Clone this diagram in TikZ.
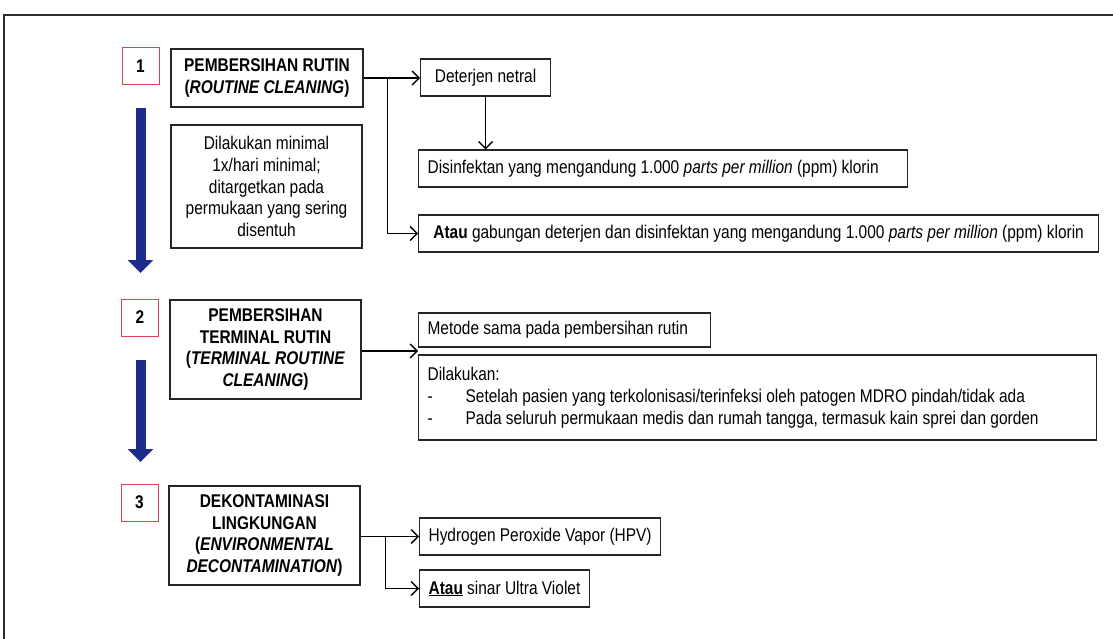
\documentclass[tikz,border=0pt]{standalone}
\usepackage{fontspec}
\setmainfont{Liberation Sans}[FakeStretch=0.84]
\usepackage{xcolor}
\usepackage{tikz}
\usetikzlibrary{shapes,arrows.meta,positioning,calc}
\definecolor{darkblue}{HTML}{1C2C8C}
\definecolor{boxred}{HTML}{D8404E}
\definecolor{framegray}{HTML}{2E2E2E}
\newcommand{\diagfont}{\fontsize{18.4}{21.8}\selectfont}
\newcommand{\bulletline}[1]{\makebox[38pt][l]{-}#1}

\tikzset{
  numbox/.style={draw=boxred,line width=0.8pt,minimum width=37,minimum height=37,inner sep=0pt,font=\diagfont\bfseries},
  stagebox/.style={draw=black!85,line width=1.3pt,align=center,inner sep=3pt,font=\diagfont\bfseries},
  notebox/.style={draw=black!85,line width=1.2pt,align=center,inner sep=3pt,font=\diagfont},
  itembox/.style={draw=black!85,line width=1.2pt,anchor=west,inner xsep=9pt,minimum height=37,font=\diagfont},
  link/.style={line width=1.3pt,-{Straight Barb[length=7pt,width=14pt]}},
  flow/.style={darkblue,line width=10pt,-{Triangle[length=13pt,width=25pt]}}
}

\begin{document}
\begin{tikzpicture}[x=1pt,y=-1pt]
  \useasboundingbox (0,0) rectangle (1113,639);
  % Page frame
  \draw[framegray,line width=1.6pt] (4,639) -- (4,15) -- (1113,15);

  % Routine cleaning
  \node[numbox] (num1) at (140.5,66) {1};
  \node[stagebox,minimum width=192,minimum height=58] (stage1) at (267,78)
    {PEMBERSIHAN RUTIN\\(\textit{ROUTINE CLEANING})};
  \node[notebox,minimum width=191,minimum height=123] (desc1) at (266.5,186.5)
    {Dilakukan minimal\\1x/hari minimal;\\ditargetkan pada\\permukaan yang sering\\disentuh};
  \node[itembox,minimum width=130] (deter) at (420,77.5) {Deterjen netral};
  \node[itembox] (disin) at (418,168.5)
    {\makebox[471pt][l]{Disinfektan yang mengandung 1.000 \textit{parts per million} (ppm) klorin}};
  \node[itembox,minimum width=680] (atau1) at (418,233.5)
    {\textbf{Atau} gabungan deterjen dan disinfektan yang mengandung 1.000 \textit{parts per million} (ppm) klorin};

  \coordinate (br1) at ($(stage1.east)+(24,0)$);
  \draw[link] (stage1.east) -- (stage1.east -| deter.west);
  \draw[link] (br1) |- (atau1.west);
  \draw[link] (deter.south) -- (deter.south |- disin.north);

  \coordinate (flow1end) at (140.5,273);
  \draw[flow] (num1.south |- stage1.south) -- (flow1end);

  % Terminal routine cleaning
  \node[numbox] (num2) at (140,317.5) {2};
  \node[stagebox,minimum width=191,minimum height=99] (stage2) at (265.5,349.5)
    {PEMBERSIHAN\\TERMINAL RUTIN\\(\textit{TERMINAL ROUTINE}\\\textit{CLEANING})};
  \node[itembox,minimum height=34] (metode) at (418,330)
    {\makebox[274pt][l]{Metode sama pada pembersihan rutin}};
  \node[itembox,align=left,minimum height=85] (dilak) at (418,397.5)
    {\makebox[660pt][l]{Dilakukan:}\\
     \bulletline{Setelah pasien yang terkolonisasi/terinfeksi oleh patogen MDRO pindah/tidak ada}\\
     \bulletline{Pada seluruh permukaan medis dan rumah tangga, termasuk kain sprei dan gorden}};

  \coordinate (gap2) at ($(metode.south west)!0.5!(dilak.north west)$);
  \draw[link] (stage2.east |- gap2) -- (gap2);

  \coordinate (flow2start) at (140.5,360);
  \coordinate (flow2end) at (140.5,462);
  \draw[flow] (flow2start) -- (flow2end);

  % Environmental decontamination
  \node[numbox] (num3) at (139.5,502.5) {3};
  \node[stagebox,minimum width=191,minimum height=99] (stage3) at (264.5,535.5)
    {DEKONTAMINASI\\LINGKUNGAN\\(\textit{ENVIRONMENTAL}\\\textit{DECONTAMINATION})};
  \node[itembox] (hpv) at (419,536.5) {Hydrogen Peroxide Vapor (HPV)};
  \node[itembox] (uv) at (419,588.5) {\underline{\textbf{Atau}} sinar Ultra Violet};

  \coordinate (br3) at ($(stage3.east |- hpv.west)+(25,0)$);
  \draw[link] (stage3.east |- hpv.west) -- (hpv.west);
  \draw[link] (br3) |- (uv.west);
\end{tikzpicture}
\end{document}
